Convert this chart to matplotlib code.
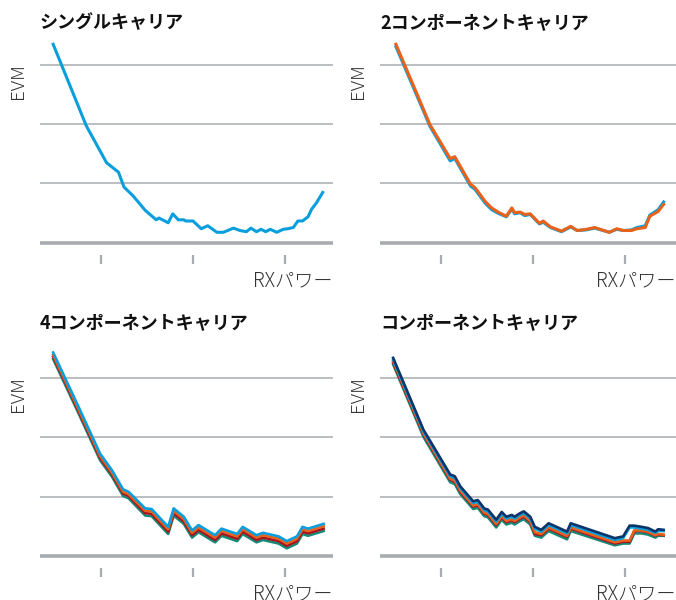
import matplotlib
matplotlib.use("Agg")
import matplotlib.pyplot as plt

plt.rcParams['font.family'] = ['Noto Sans CJK JP', 'DejaVu Sans']

W, H = 676, 600

titles = ['シングルキャリア', '2コンポーネントキャリア', '4コンポーネントキャリア', 'コンポーネントキャリア']
x_label = 'RXパワー'
y_label = 'EVM'
x_ticks = [1, 2, 3]
grid_vals = [1, 2, 3]

# panel 1: single carrier
x1 = [0.48, 0.84, 1.06, 1.19, 1.25, 1.35, 1.48, 1.60, 1.63, 1.73, 1.78, 1.84, 1.90, 1.92, 2.00,
      2.09, 2.16, 2.26, 2.33, 2.44, 2.51, 2.58, 2.63, 2.69, 2.74, 2.79, 2.84, 2.91, 2.98, 3.03,
      3.09, 3.14, 3.19, 3.25, 3.29, 3.34, 3.41]
y1 = [3.34, 1.97, 1.35, 1.19, 0.94, 0.79, 0.55, 0.39, 0.42, 0.34, 0.49, 0.39, 0.39, 0.37, 0.37,
      0.24, 0.29, 0.18, 0.18, 0.25, 0.21, 0.19, 0.25, 0.19, 0.23, 0.19, 0.23, 0.18, 0.23, 0.24,
      0.26, 0.37, 0.37, 0.44, 0.57, 0.67, 0.85]

# panel 2: two component carriers
x2 = [0.51, 0.88, 1.10, 1.15, 1.32, 1.37, 1.48, 1.55, 1.62, 1.71, 1.77, 1.80, 1.86, 1.91, 1.97,
      2.07, 2.11, 2.19, 2.31, 2.41, 2.48, 2.58, 2.67, 2.83, 2.91, 2.98, 3.07, 3.13, 3.22, 3.27,
      3.36, 3.42]
y2_blue = [3.30, 1.96, 1.38, 1.42, 0.96, 0.90, 0.67, 0.56, 0.50, 0.44, 0.57, 0.49, 0.51, 0.46, 0.48,
           0.32, 0.35, 0.26, 0.19, 0.27, 0.21, 0.22, 0.25, 0.18, 0.23, 0.21, 0.22, 0.26, 0.29, 0.47,
           0.56, 0.69]
y2_orange = [3.34, 1.99, 1.42, 1.45, 0.99, 0.93, 0.70, 0.59, 0.52, 0.45, 0.59, 0.51, 0.52, 0.48, 0.49,
             0.33, 0.37, 0.27, 0.20, 0.28, 0.21, 0.23, 0.26, 0.18, 0.24, 0.21, 0.21, 0.24, 0.26, 0.45,
             0.53, 0.65]

# panel 3: four component carriers
x3 = [0.48, 0.74, 0.99, 1.12, 1.24, 1.30, 1.48, 1.55, 1.73, 1.79, 1.90, 1.99, 2.06, 2.24, 2.31,
      2.48, 2.54, 2.69, 2.76, 2.93, 3.02, 3.13, 3.19, 3.25, 3.42]
y3_blue = [3.42, 2.56, 1.72, 1.44, 1.12, 1.08, 0.80, 0.79, 0.49, 0.80, 0.66, 0.43, 0.52, 0.35, 0.46,
           0.37, 0.49, 0.35, 0.39, 0.33, 0.25, 0.33, 0.49, 0.46, 0.54]
y3_orange = [3.38, 2.52, 1.68, 1.40, 1.08, 1.04, 0.76, 0.75, 0.45, 0.76, 0.62, 0.39, 0.48, 0.31, 0.42,
             0.33, 0.45, 0.31, 0.35, 0.29, 0.21, 0.29, 0.45, 0.42, 0.50]
y3_red = [3.35, 2.49, 1.65, 1.37, 1.05, 1.01, 0.72, 0.71, 0.41, 0.72, 0.58, 0.35, 0.44, 0.27, 0.38,
          0.29, 0.41, 0.27, 0.31, 0.25, 0.17, 0.25, 0.41, 0.38, 0.46]
y3_teal = [3.31, 2.45, 1.61, 1.33, 1.01, 0.97, 0.68, 0.67, 0.37, 0.68, 0.54, 0.31, 0.40, 0.23, 0.34,
           0.25, 0.37, 0.23, 0.27, 0.21, 0.13, 0.21, 0.37, 0.34, 0.42]

# panel 4: component carriers (5 lines)
x4 = [0.48, 0.81, 1.10, 1.15, 1.21, 1.35, 1.40, 1.47, 1.51, 1.60, 1.66, 1.71, 1.77, 1.80, 1.86,
      1.90, 1.97, 2.02, 2.09, 2.17, 2.37, 2.41, 2.89, 2.98, 3.05, 3.10, 3.18, 3.25, 3.33, 3.36, 3.42]
y4_navy = [3.33, 2.12, 1.37, 1.34, 1.17, 0.92, 0.94, 0.80, 0.78, 0.61, 0.74, 0.66, 0.69, 0.66, 0.72,
           0.75, 0.66, 0.49, 0.44, 0.55, 0.41, 0.55, 0.30, 0.33, 0.51, 0.51, 0.49, 0.47, 0.41, 0.45, 0.44]
y4_blue = [3.30, 2.09, 1.34, 1.31, 1.14, 0.89, 0.91, 0.77, 0.75, 0.58, 0.71, 0.63, 0.66, 0.63, 0.69,
           0.72, 0.63, 0.46, 0.41, 0.52, 0.38, 0.52, 0.27, 0.30, 0.48, 0.48, 0.46, 0.44, 0.39, 0.42, 0.42]
y4_orange = [3.28, 2.06, 1.30, 1.27, 1.10, 0.85, 0.87, 0.73, 0.71, 0.54, 0.67, 0.59, 0.62, 0.59, 0.65,
             0.68, 0.59, 0.40, 0.37, 0.48, 0.34, 0.48, 0.23, 0.26, 0.26, 0.43, 0.43, 0.41, 0.35, 0.37, 0.36]
y4_red = [3.25, 2.04, 1.28, 1.25, 1.08, 0.83, 0.85, 0.71, 0.69, 0.52, 0.65, 0.57, 0.60, 0.57, 0.63,
          0.66, 0.57, 0.37, 0.35, 0.46, 0.32, 0.46, 0.21, 0.24, 0.24, 0.42, 0.42, 0.40, 0.34, 0.36, 0.35]
y4_teal = [3.22, 2.00, 1.24, 1.21, 1.04, 0.79, 0.81, 0.67, 0.65, 0.48, 0.61, 0.53, 0.56, 0.53, 0.59,
           0.62, 0.53, 0.34, 0.31, 0.42, 0.28, 0.42, 0.18, 0.21, 0.21, 0.38, 0.38, 0.36, 0.31, 0.34, 0.34]

BLUE = '#0a9fdc'
ORANGE = '#e8621c'
RED = '#a8141e'
TEAL = '#148a78'
NAVY = '#0c3468'
GRID = '#a8acb0'

panels = [
    (titles[0], [(x1, y1, BLUE)]),
    (titles[1], [(x2, y2_blue, BLUE), (x2, y2_orange, ORANGE)]),
    (titles[2], [(x3, y3_teal, TEAL), (x3, y3_red, RED), (x3, y3_orange, ORANGE), (x3, y3_blue, BLUE)]),
    (titles[3], [(x4, y4_teal, TEAL), (x4, y4_red, RED), (x4, y4_orange, ORANGE),
                 (x4, y4_blue, BLUE), (x4, y4_navy, NAVY)]),
]

# pixel layout: (axes left, axes right, baseline y, panel top y)
layout = [(40, 333, 243, 0), (380, 676, 243, 0), (40, 333, 556, 300), (380, 676, 556, 300)]
unit_y = 59.5
unit_x = 92.0
tick_px = [101, 441, 101, 441]

fig = plt.figure(figsize=(W / 100, H / 100), dpi=100)

for i, (title, series) in enumerate(panels):
    left, right, base, ptop = layout[i]
    ymin, ymax = -0.1, 3.45
    bottom_px = base + (-ymin) * unit_y
    top_px = base - ymax * unit_y
    ax = fig.add_axes([left / W, 1 - bottom_px / H, (right - left) / W, (bottom_px - top_px) / H])
    xmin = 1 - (tick_px[i] - left) / unit_x
    xmax = 1 + (right - tick_px[i]) / unit_x
    ax.set_xlim(xmin, xmax)
    ax.set_ylim(ymin, ymax)

    for g in grid_vals:
        ax.axhline(g, color=GRID, lw=1.1, zorder=1)
    ax.axhline(0, color=GRID, lw=2.6, zorder=1)

    lw = 2.2 if len(series) < 4 else 1.9
    for xs, ys, c in series:
        ax.plot(xs, ys, color=c, lw=lw, solid_joinstyle='round', clip_on=False, zorder=3)

    for s in ['top', 'right', 'left']:
        ax.spines[s].set_visible(False)
    ax.spines['bottom'].set_position(('outward', 4))
    ax.spines['bottom'].set_color('none')
    ax.set_xticks(x_ticks)
    ax.set_xticklabels([])
    ax.set_yticks([])
    ax.tick_params(axis='x', direction='out', length=6.5, width=1.6, color=GRID)

    fig.text(left / W, 1 - (ptop + 13) / H, title, fontsize=13, fontweight='bold',
             ha='left', va='top', color='#111111')
    fig.text((left - 22) / W, 1 - (base - 3 * unit_y - 1) / H, y_label, fontsize=13.5, rotation=90,
             ha='center', va='top', color='#333333', fontweight='light')
    fig.text((right - 1) / W, 1 - (base + 27) / H, x_label, fontsize=13.8,
             ha='right', va='top', color='#333333', fontweight='light')

fig.savefig('out.png', dpi=100, facecolor='white')
